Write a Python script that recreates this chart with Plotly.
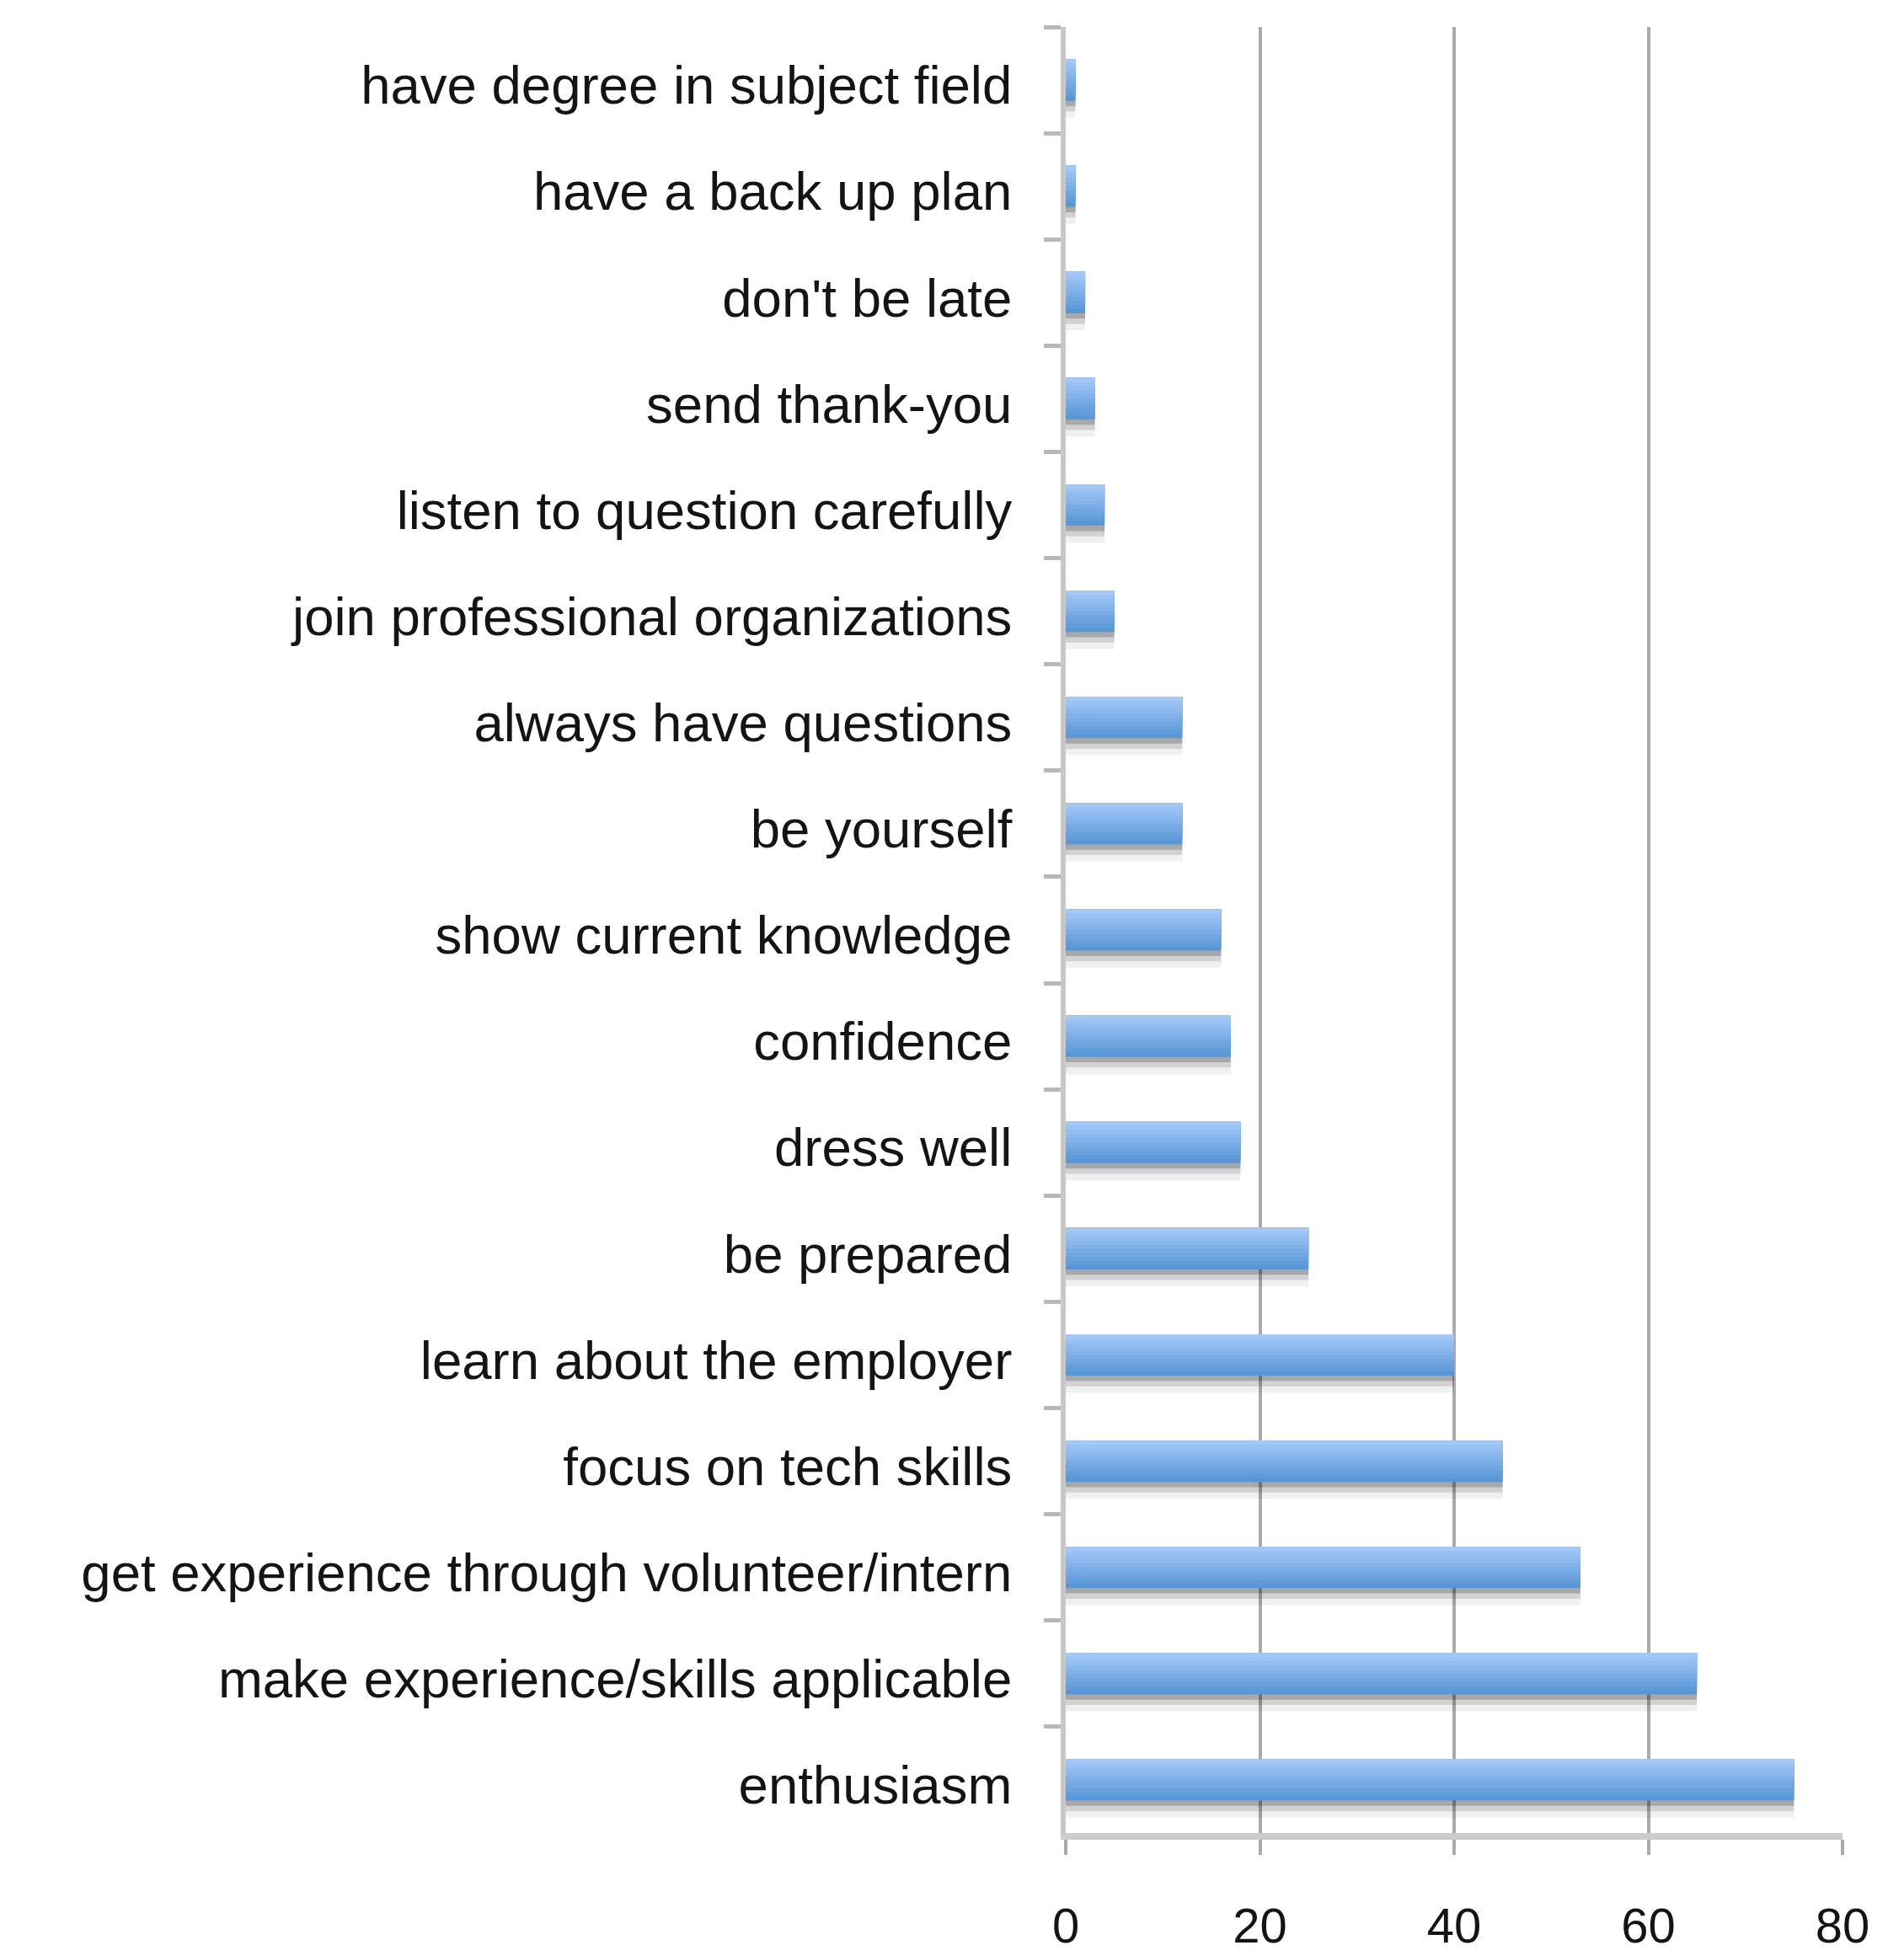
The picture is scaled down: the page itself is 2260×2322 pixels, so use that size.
import plotly.graph_objects as go

categories = [
    "have degree in subject field",
    "have a back up plan",
    "don't be late",
    "send thank-you",
    "listen to question carefully",
    "join professional organizations",
    "always have questions",
    "be yourself",
    "show current knowledge",
    "confidence",
    "dress well",
    "be prepared",
    "learn about the employer",
    "focus on tech skills",
    "get experience through volunteer/intern",
    "make experience/skills applicable",
    "enthusiasm",
]
values = [1, 1, 2, 3, 4, 5, 12, 12, 16, 17, 18, 25, 40, 45, 53, 65, 75]
x_ticks = [0, 20, 40, 60, 80]

BAR_W = 0.39
dark = (88, 150, 214)
light = (163, 200, 248)

fig = go.Figure()

# soft shadow under bars
for off, alpha in [(0.16, 0.06), (0.10, 0.12), (0.05, 0.20)]:
    fig.add_trace(go.Bar(
        x=values, y=categories, orientation="h",
        width=BAR_W, offset=-BAR_W / 2 + off,
        marker=dict(color=f"rgba(0,0,0,{alpha})", line=dict(width=0)),
        showlegend=False, hoverinfo="skip",
    ))

# gradient bars (layered from dark bottom to light top)
N = 10
for k in range(N):
    t = k / (N - 1)
    c = tuple(round(dark[i] + (light[i] - dark[i]) * t) for i in range(3))
    frac = 1 - k / N
    fig.add_trace(go.Bar(
        x=values, y=categories, orientation="h",
        width=BAR_W * frac, offset=-BAR_W / 2,
        marker=dict(color=f"rgb{c}", line=dict(width=0)),
        showlegend=False,
        hoverinfo="skip" if k else None,
    ))

fig.update_layout(
    width=2260, height=2322,
    margin=dict(l=1257, r=81, t=24, b=125),
    paper_bgcolor="white", plot_bgcolor="white",
    barmode="overlay",
    font=dict(family="Liberation Sans, Arial, sans-serif", color="#141414"),
)
fig.update_xaxes(
    range=[0, 80], tickvals=x_ticks, ticktext=[str(v) for v in x_ticks],
    showgrid=True, gridcolor="#aaaaaa", gridwidth=4,
    ticks="outside", ticklen=18, tickwidth=4, tickcolor="#aaaaaa",
    showline=True, linecolor="#cccccc", linewidth=8,
    zeroline=False,
    tickfont=dict(size=58),
    ticklabelstandoff=34,
)
fig.update_yaxes(
    categoryorder="array", categoryarray=categories, autorange="reversed",
    showgrid=False, zeroline=False,
    showline=True, linecolor="#c8c8c8", linewidth=6,
    ticks="outside", tickson="boundaries", ticklen=20, tickwidth=5, tickcolor="#b8b8b8",
    tickfont=dict(size=63.5),
    ticklabelstandoff=45,
    ticklabelshift=-6,
)

fig.write_html("out.html")
